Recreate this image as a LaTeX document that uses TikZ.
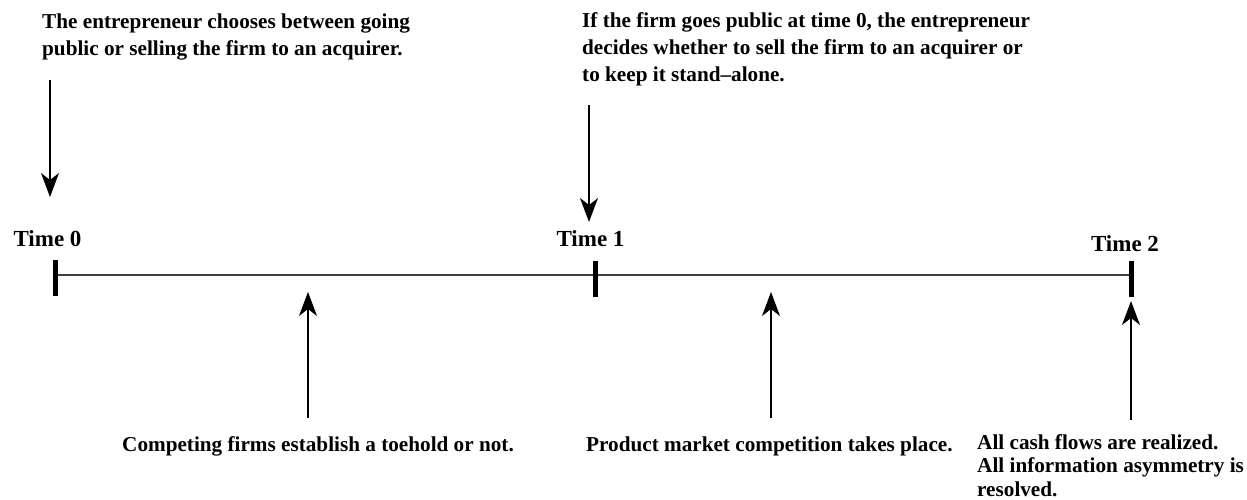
\documentclass[tikz,border=0pt]{standalone}
\usepackage{fontspec}
\setmainfont{Liberation Serif}
\usetikzlibrary{arrows.meta}
\begin{document}
\begin{tikzpicture}[x=1pt,y=-1pt,
  lbl/.style={font=\bfseries\fontsize{21.2}{27}\selectfont, inner sep=0pt, align=left, anchor=base west},
  tlbl/.style={font=\bfseries\fontsize{23}{27}\selectfont, inner sep=0pt, anchor=base},
  arr/.style={line width=1.3pt, -{Stealth[length=24pt,width=18pt,inset=7pt]}},
  timeline/.style={line width=1.6pt, draw=black!75},
  tickmark/.style={line width=5pt}
]
\useasboundingbox (0,0) rectangle (1247,499);
% timeline
\coordinate (t0) at (55,275);
\coordinate (t1) at (595,275);
\coordinate (t2) at (1131,275);
\draw[timeline] (t0) -- (t1) -- (t2);
\coordinate (t0a) at (55,260); \coordinate (t0b) at (55,296);
\coordinate (t1a) at (595,261); \coordinate (t1b) at (595,297);
\coordinate (t2a) at (1131,261); \coordinate (t2b) at (1131,297);
\draw[tickmark] (t0a) -- (t0b);
\draw[tickmark] (t1a) -- (t1b);
\draw[tickmark] (t2a) -- (t2b);
% time labels
\node[tlbl] (L0) at (47.5,246) {Time 0};
\node[tlbl] (L1) at (590.5,246) {Time 1};
\node[tlbl] (L2) at (1125,251) {Time 2};
% texts (base anchor = baseline of the last line)
\node[lbl] (top0) at (42,55) {The entrepreneur chooses between going\\public or selling the firm to an acquirer.};
\node[lbl] (top1) at (582,81) {If the firm goes public at time 0, the entrepreneur\\decides whether to sell the firm to an acquirer or\\to keep it stand--alone.};
\node[lbl] (bot0) at (122,451) {Competing firms establish a toehold or not.};
\node[lbl] (bot1) at (586,451) {Product market competition takes place.};
\node[lbl, font=\bfseries\fontsize{21.2}{23.5}\selectfont] (bot2) at (977,496) {All cash flows are realized.\\All information asymmetry is\\resolved.};
% arrows
\coordinate (a0s) at (50,80);   \coordinate (a0e) at (50,197);
\coordinate (a1s) at (589,105); \coordinate (a1e) at (589,222);
\coordinate (b0s) at (308,418); \coordinate (b0e) at (308,292);
\coordinate (b1s) at (771,418); \coordinate (b1e) at (771,292);
\coordinate (b2s) at (1131,420); \coordinate (b2e) at (1131,301);
\draw[arr] (a0s) -- (a0e);
\draw[arr] (a1s) -- (a1e);
\draw[arr] (b0s) -- (b0e);
\draw[arr] (b1s) -- (b1e);
\draw[arr] (b2s) -- (b2e);
\end{tikzpicture}
\end{document}
